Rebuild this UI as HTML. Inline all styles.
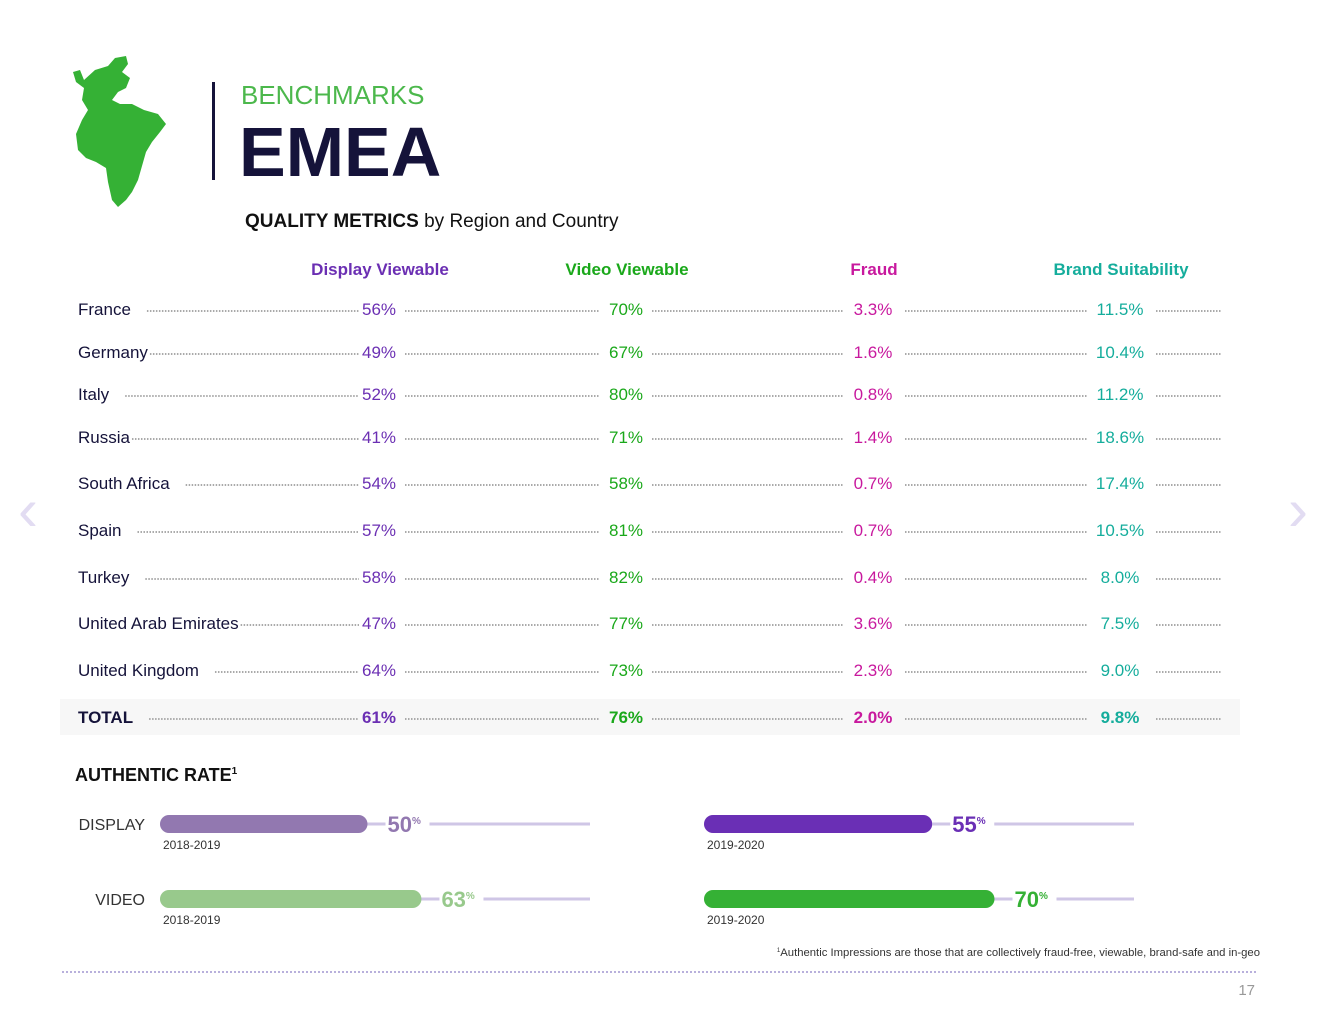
<!DOCTYPE html>
<html><head><meta charset="utf-8"><style>
body{margin:0;background:#fff;}
svg{display:block;font-family:"Liberation Sans",sans-serif;}
</style></head><body>
<svg id="s" width="1320" height="1020" viewBox="0 0 1320 1020">
<path fill="#35b135" d="M73,72 L80,70 L84,80 L95,70 L108,66 L115,58 L126,56 L128,64 L122,72 L130,78 L126,88 L118,92 L112,100 L120,104 L132,104 L144,110 L158,114 L166,124 L160,132 L152,142 L146,152 L142,166 L138,180 L132,192 L126,200 L118,207 L112,200 L108,182 L106,168 L96,162 L86,158 L78,150 L76,134 L82,120 L88,110 L82,100 L84,88 L76,82 Z"/>
<rect x="212" y="82" width="3" height="98" fill="#15133a"/>
<text x="241" y="104" font-size="26" fill="#4cb84c">BENCHMARKS</text>
<text x="239" y="176" font-size="70" font-weight="bold" fill="#15133a">EMEA</text>
<text x="245" y="227" font-size="19" fill="#111"><tspan font-weight="bold">QUALITY METRICS</tspan> by Region and Country</text>
<text x="28" y="530" font-size="60" fill="#e2dcf2" text-anchor="middle">‹</text>
<text x="1298" y="530" font-size="60" fill="#e2dcf2" text-anchor="middle">›</text>
<rect x="60" y="699" width="1180" height="36" fill="#f7f7f7"/>
<g id="tbl"></g>
<text x="75" y="781" font-size="18" font-weight="bold" fill="#111">AUTHENTIC RATE<tspan font-size="10" dy="-7">1</tspan></text>
<g id="bars"></g>
<text x="1260" y="956" font-size="11.3" fill="#333" text-anchor="end"><tspan font-size="6" dy="-4">1</tspan><tspan dy="4">Authentic Impressions are those that are collectively fraud-free, viewable, brand-safe and in-geo</tspan></text>
<line x1="62" y1="972" x2="1258" y2="972" stroke="#b8b0dc" stroke-width="2" stroke-dasharray="2,2"/>
<text x="1255" y="995" font-size="15" fill="#999" text-anchor="end">17</text>
</svg>
<script>
const countries=["France","Germany","Italy","Russia","South Africa","Spain","Turkey","United Arab Emirates","United Kingdom","TOTAL"];
const displayViewable=[56,49,52,41,54,57,58,47,64,61];
const videoViewable=[70,67,80,71,58,81,82,77,73,76];
const fraud=[3.3,1.6,0.8,1.4,0.7,0.7,0.4,3.6,2.3,2.0];
const brandSuitability=[11.5,10.4,11.2,18.6,17.4,10.5,8.0,7.5,9.0,9.8];
const metricNames=["Display Viewable","Video Viewable","Fraud","Brand Suitability"];
const barGroups=["DISPLAY","VIDEO"];
const periods=["2018-2019","2019-2020"];
const rate1819=[50,63];
const rate1920=[55,70];

const NS="http://www.w3.org/2000/svg";
function mk(tag,at,parent){const e=document.createElementNS(NS,tag);for(const k in at)e.setAttribute(k,at[k]);parent.appendChild(e);return e;}
const tbl=document.getElementById('tbl');
const colX=[379,626,873,1120];
const colC=["#6b2fb3","#1aa81a","#c8199e","#15ad9c"];
const rowY=[309,352,394,437,483,530,577,623,670,717];
metricNames.forEach((m,i)=>{
  const t=mk('text',{x:colX[i]+1,y:275,'font-size':17,'font-weight':'bold',fill:colC[i],'text-anchor':'middle'},tbl);
  
  
  t.textContent=m;
});
const series=[displayViewable,videoViewable,fraud,brandSuitability];
countries.forEach((c,r)=>{
  const y=rowY[r];const tot=c==="TOTAL";
  const lab=mk('text',{x:78,y:y+6,'font-size':17,fill:'#15133a','font-weight':tot?'bold':'normal'},tbl);
  
  
  lab.textContent=c;
  let lw=lab.getComputedTextLength();
  const starts=[78+lw+(c==="Germany"||c==="Russia"||c==="United Arab Emirates"?2:16),colX[0]+26,colX[1]+26,colX[2]+32,colX[3]+36];
  const ends=[colX[0]-20,colX[1]-26,colX[2]-30,colX[3]-32,1222];
  for(let k=0;k<5;k++){
    const l=mk('line',{x1:starts[k],y1:y+2,x2:ends[k],y2:y+2,stroke:'#aaa','stroke-width':2,'stroke-dasharray':'1.5,1.5'},tbl);
    
    
  }
  series.forEach((s,i)=>{
    const v=s[r];
    const t=mk('text',{x:colX[i],y:y+6,'font-size':17,fill:colC[i],'text-anchor':'middle','font-weight':tot?'bold':'normal'},tbl);
    
    
    t.textContent=(i<2?v:v.toFixed(1))+"%";
  });
});
const bars=document.getElementById('bars');
const trackW=430;
function bx(v){return v*4.15;}
const groupY=[824,899];
const startX=[160,704];
const colors=[["#9278b0","#6a2fb5"],["#98c98c","#35b135"]];
barGroups.forEach((g,gi)=>{
  const y=groupY[gi];
  const gl=mk('text',{x:145,y:y+6,'font-size':16,fill:'#333','text-anchor':'end'},bars);
  
  
  gl.textContent=g;
  [rate1819,rate1920].forEach((arr,pi)=>{
    const x0=startX[pi];const v=arr[gi];const w=bx(v);
    const tr=mk('line',{x1:x0,y1:y,x2:x0+trackW,y2:y,stroke:'#cfc6e6','stroke-width':3},bars);
    
    
    const lbg=mk('rect',{x:x0+w,y:y-14,width:62,height:28,fill:'#fff'},bars);
    
    
    const b=mk('rect',{x:x0,y:y-9,width:w,height:18,rx:9,fill:colors[gi][pi]},bars);
    
    
    const tk=mk('line',{x1:x0+w,y1:y,x2:x0+w+18,y2:y,stroke:'#cfc6e6','stroke-width':3},bars);
    
    
    const t=mk('text',{x:x0+w+20,y:y+8,'font-size':22,'font-weight':'bold',fill:colors[gi][pi]},bars);
    
    
    t.innerHTML=v+'<tspan font-size="10" dy="-8">%</tspan>';
    const p=mk('text',{x:x0+3,y:y+25,'font-size':12,fill:'#333'},bars);
    
    
    p.textContent=periods[pi];
  });
});
</script>
</body></html>
